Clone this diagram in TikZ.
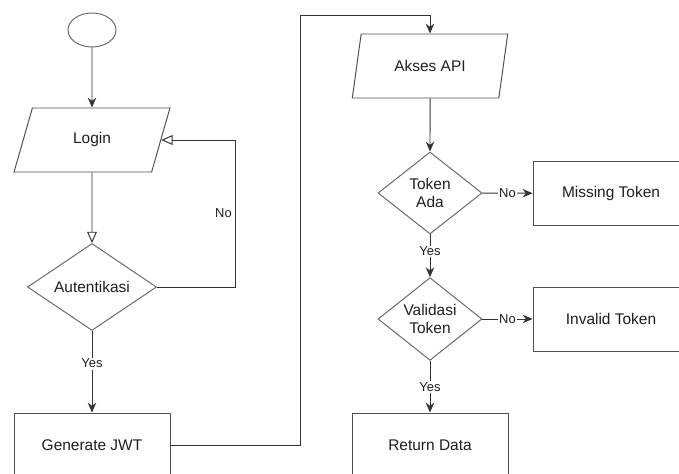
\documentclass[tikz,border=0pt]{standalone}
\usepackage{fontspec}
\setmainfont{Liberation Sans}
\usetikzlibrary{shapes.geometric,arrows.meta,positioning}
\definecolor{flowtext}{RGB}{30,30,30}
\definecolor{flowline}{RGB}{50,50,50}
\definecolor{flowedge}{RGB}{80,80,80}
\definecolor{flowdiam}{RGB}{105,105,105}

\begin{document}
\begin{tikzpicture}[
    startnode/.style={draw=flowdiam, ellipse, minimum width=1.2cm, minimum height=0.85cm,
                      line width=0.7pt},
    iobox/.style={draw=flowedge, trapezium, trapezium left angle=68, trapezium right angle=112,
                  trapezium stretches=true,
                  minimum width=3.9cm, minimum height=1.6cm, inner sep=0pt,
                  font=\fontsize{11}{13}\selectfont, text=flowtext, line width=0.7pt},
    decision/.style={draw=flowdiam, diamond, minimum width=3.225cm, minimum height=2.1cm,
                     inner sep=0pt, align=center, font=\fontsize{11}{13}\selectfont,
                     text=flowtext, line width=0.7pt},
    procbox/.style={draw=flowedge, rectangle, minimum width=3.9cm, minimum height=1.6cm,
                    font=\fontsize{11}{13}\selectfont, text=flowtext, line width=0.7pt},
    lbl/.style={fill=white, inner sep=1pt, font=\fontsize{9.2}{11}\selectfont, text=flowtext},
    arrow/.style={-{Stealth[length=7pt,width=6pt]}, draw=flowline, line width=0.7pt},
    openarrow/.style={-{Triangle[open,length=8pt,width=7pt]}, draw=flowline, line width=0.7pt}
]
\useasboundingbox (0,0) rectangle (16.975,11.825);

\node[startnode] (start) at (2.3,11.075) {};
\node[iobox]     (login) at (2.3, 8.325) {Login};
\node[decision]  (auth)  at (2.3, 4.65)  {Autentikasi};
\node[procbox]   (jwt)   at (2.3, 0.70)  {Generate JWT};

\node[iobox]    (akses) at (10.75,10.175) {Akses API};
\node[decision, minimum width=2.6cm, minimum height=2.05cm] (ada)   at (10.75,7.0)  {Token\\Ada};
\node[decision, minimum width=2.6cm, minimum height=2.05cm] (valid) at (10.75,3.85) {Validasi\\Token};
\node[procbox]  (ret)   at (10.75,0.70) {Return Data};

\node[procbox] (missing) at (15.275,6.99) {Missing Token};
\node[procbox] (invalid) at (15.275,3.85) {Invalid Token};

\coordinate (loop) at (5.875,4.65);
\coordinate (bend) at (7.5,11.45);

\draw[arrow] (start) -- (login);
\draw[openarrow] (login) -- (auth);
\draw[openarrow] (auth.east) -- (loop) |- node[pos=0.25, left, inner sep=2pt,
    font=\fontsize{9.2}{11}\selectfont, text=flowtext] {No} (login.east);
\draw[arrow] (auth) -- node[lbl, pos=0.4] {Yes} (jwt);
\draw[arrow] (jwt.east) -| (bend) -| (akses.north);

\draw[arrow] (akses) -- (ada);
\draw[arrow] (ada) -- node[lbl] {No} (missing);
\draw[arrow] (ada) -- node[lbl, pos=0.4] {Yes} (valid);
\draw[arrow] (valid) -- node[lbl] {No} (invalid);
\draw[arrow] (valid) -- node[lbl] {Yes} (ret);
\end{tikzpicture}
\end{document}
